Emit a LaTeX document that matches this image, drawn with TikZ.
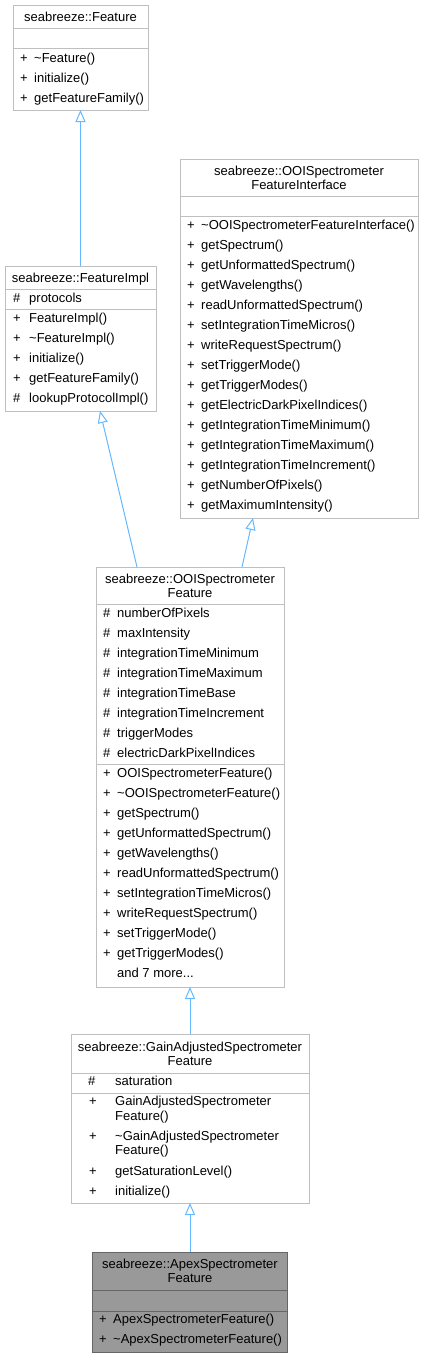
\documentclass[tikz,border=0pt]{standalone}
\usepackage{fontspec}
\setmainfont{Liberation Sans}
\usepackage{tikz}
\usetikzlibrary{arrows.meta}

\definecolor{boxgray}{HTML}{BFBFBF}
\definecolor{edgeblue}{HTML}{63B8FF}
\definecolor{fillgray}{HTML}{999999}
\definecolor{curgray}{HTML}{666666}

\tikzset{
  classbox/.style={draw=boxgray, fill=white, line width=1pt, inner sep=0pt, outer sep=0pt},
  classcur/.style={draw=curgray, fill=fillgray, line width=1pt, inner sep=0pt, outer sep=0pt},
  divline/.style={draw=boxgray, line width=1pt},
  divcur/.style={draw=curgray, line width=1pt},
  member/.style={anchor=base west, inner sep=0pt},
  classtitle/.style={anchor=base, inner sep=0pt},
  inherit/.style={draw=edgeblue, line width=1pt, -{Triangle[open, length=12pt, width=10pt]}},
}

\begin{document}
\begin{tikzpicture}[x=1pt, y=-1pt, font=\fontsize{13}{14}\selectfont]
    \useasboundingbox (0,0) rectangle (424,1357);

    % boxes
    \node[classbox, minimum width=135pt, minimum height=105pt] (feature) at (80.5,57.5) {};
    \node[classbox, minimum width=238pt, minimum height=359pt] (iface) at (299,338.5) {};
    \node[classbox, minimum width=151pt, minimum height=145pt] (fimpl) at (80.5,338.5) {};
    \node[classbox, minimum width=188pt, minimum height=420pt] (ooifeat) at (190,777) {};
    \node[classbox, minimum width=238pt, minimum height=169pt] (gain) at (190,1118.5) {};
    \node[classcur, minimum width=195pt, minimum height=100pt] (apex) at (190,1302) {};

    % seabreeze::Feature
    \node[classtitle] (fe-t) at (80.5,21.5) {seabreeze::Feature};
    \draw[divline] (13,28) -- (148,28);
    \draw[divline] (13,48) -- (148,48);
    \foreach \txt [count=\i from 0] in {\textasciitilde Feature(), initialize(), getFeatureFamily()} {
        \node[member] (fe-s\i) at (20,{62.5+20*\i}) {+};
        \node[member] (fe-m\i) at (34,{62.5+20*\i}) {\txt};
    }

    % seabreeze::OOISpectrometerFeatureInterface
    \node[classtitle] (if-t1) at (299,175.5) {seabreeze::OOISpectrometer};
    \node[classtitle] (if-t2) at (299,189.5) {FeatureInterface};
    \draw[divline] (180,196) -- (418,196);
    \draw[divline] (180,216) -- (418,216);
    \foreach \txt [count=\i from 0] in {\textasciitilde OOISpectrometerFeatureInterface(), getSpectrum(),
        getUnformattedSpectrum(), getWavelengths(), readUnformattedSpectrum(),
        setIntegrationTimeMicros(), writeRequestSpectrum(), setTriggerMode(),
        getTriggerModes(), getElectricDarkPixelIndices(), getIntegrationTimeMinimum(),
        getIntegrationTimeMaximum(), getIntegrationTimeIncrement(), getNumberOfPixels(),
        getMaximumIntensity()} {
        \node[member] (if-s\i) at (187,{229.5+20*\i}) {+};
        \node[member] (if-m\i) at (201,{229.5+20*\i}) {\txt};
    }

    % seabreeze::FeatureImpl
    \node[classtitle] (fi-t) at (80.5,282.5) {seabreeze::FeatureImpl};
    \draw[divline] (5,289) -- (156,289);
    \node[member] (fi-as) at (13,302.5) {\#};
    \node[member] (fi-a) at (29,302.5) {protocols};
    \draw[divline] (5,309) -- (156,309);
    \foreach \sym/\txt [count=\i from 0] in {+/FeatureImpl(), +/\textasciitilde FeatureImpl(),
        +/initialize(), +/getFeatureFamily(), \#/lookupProtocolImpl()} {
        \node[member] (fi-s\i) at (13,{322.5+20*\i}) {\sym};
        \node[member] (fi-m\i) at (29,{322.5+20*\i}) {\txt};
    }

    % seabreeze::OOISpectrometerFeature
    \node[classtitle] (of-t1) at (190,583.5) {seabreeze::OOISpectrometer};
    \node[classtitle] (of-t2) at (190,597.5) {Feature};
    \draw[divline] (96,604) -- (284,604);
    \foreach \txt [count=\i from 0] in {numberOfPixels, maxIntensity, integrationTimeMinimum,
        integrationTimeMaximum, integrationTimeBase, integrationTimeIncrement,
        triggerModes, electricDarkPixelIndices} {
        \node[member] (of-as\i) at (103,{617.5+20*\i}) {\#};
        \node[member] (of-a\i) at (117,{617.5+20*\i}) {\txt};
    }
    \draw[divline] (96,764) -- (284,764);
    \foreach \txt [count=\i from 0] in {OOISpectrometerFeature(), \textasciitilde OOISpectrometerFeature(),
        getSpectrum(), getUnformattedSpectrum(), getWavelengths(), readUnformattedSpectrum(),
        setIntegrationTimeMicros(), writeRequestSpectrum(), setTriggerMode(), getTriggerModes()} {
        \node[member] (of-s\i) at (103,{777.5+20*\i}) {+};
        \node[member] (of-m\i) at (117,{777.5+20*\i}) {\txt};
    }
    \node[member] (of-more) at (117,977.5) {and 7 more...};

    % seabreeze::GainAdjustedSpectrometerFeature
    \node[classtitle] (ga-t1) at (190,1051.5) {seabreeze::GainAdjustedSpectrometer};
    \node[classtitle] (ga-t2) at (190,1065.5) {Feature};
    \draw[divline] (71,1073) -- (309,1073);
    \node[member] (ga-as) at (88,1085.5) {\#};
    \node[member] (ga-a) at (115,1085.5) {saturation};
    \draw[divline] (71,1093) -- (309,1093);
    \node[member] (ga-s0) at (89,1105.5) {+};
    \node[member] (ga-m0) at (115,1105.5) {GainAdjustedSpectrometer};
    \node[member] (ga-m0b) at (115,1120.5) {Feature()};
    \node[member] (ga-s1) at (89,1140.5) {+};
    \node[member] (ga-m1) at (115,1140.5) {\textasciitilde GainAdjustedSpectrometer};
    \node[member] (ga-m1b) at (115,1154.5) {Feature()};
    \node[member] (ga-s2) at (89,1175.5) {+};
    \node[member] (ga-m2) at (115,1175.5) {getSaturationLevel()};
    \node[member] (ga-s3) at (89,1195.5) {+};
    \node[member] (ga-m3) at (115,1195.5) {initialize()};

    % seabreeze::ApexSpectrometerFeature
    \node[classtitle] (ap-t1) at (190,1268.5) {seabreeze::ApexSpectrometer};
    \node[classtitle] (ap-t2) at (190,1282.5) {Feature};
    \draw[divcur] (92.5,1290) -- (287.5,1290);
    \draw[divcur] (92.5,1311) -- (287.5,1311);
    \node[member] (ap-s0) at (99,1323.5) {+};
    \node[member] (ap-m0) at (113,1323.5) {ApexSpectrometerFeature()};
    \node[member] (ap-s1) at (99,1343.5) {+};
    \node[member] (ap-m1) at (113,1343.5) {\textasciitilde ApexSpectrometerFeature()};

    % inheritance
    \draw[inherit] (fimpl.north) -- (feature.south);
    \draw[inherit] ([xshift=-53pt]ooifeat.north) -- ([xshift=19.5pt]fimpl.south);
    \draw[inherit] ([xshift=52pt]ooifeat.north) -- ([xshift=-46pt]iface.south);
    \draw[inherit] (gain.north) -- (ooifeat.south);
    \draw[inherit] (apex.north) -- (gain.south);
\end{tikzpicture}
\end{document}
